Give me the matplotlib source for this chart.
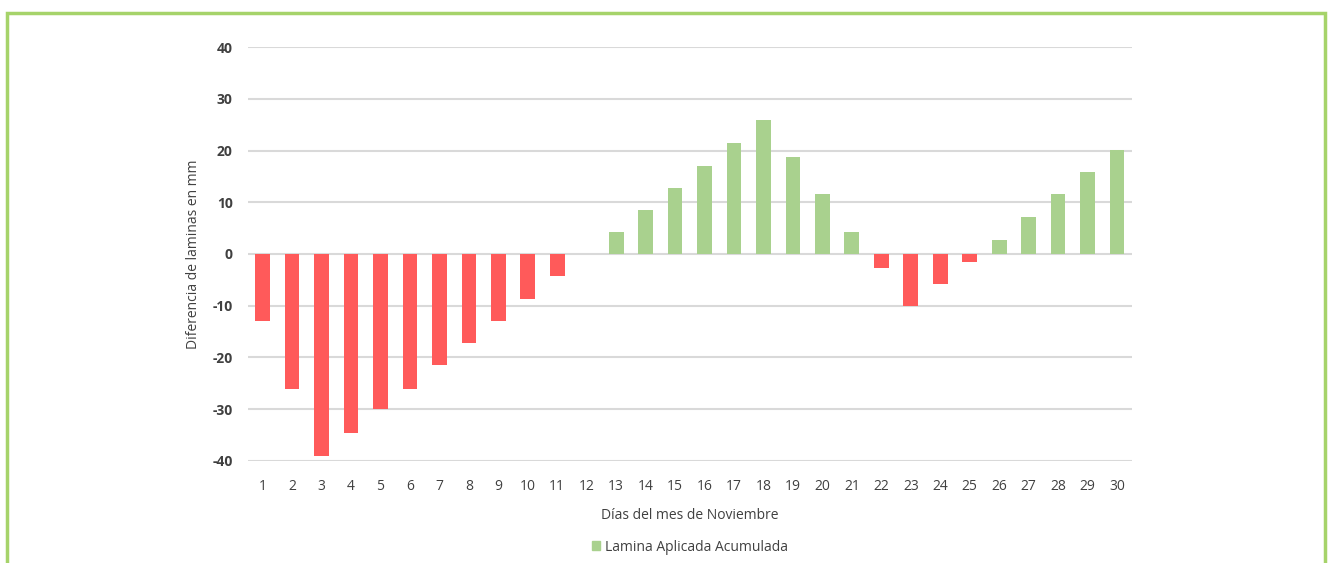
import matplotlib.pyplot as plt
from matplotlib.patches import Rectangle, Patch

# Daily difference of accumulated water depth (mm), November
days = list(range(1, 31))
diferencia = [-13, -26, -39, -34.5, -30, -26, -21.5, -17.2, -13, -8.7,
              -4.3, 0, 4.2, 8.5, 12.8, 17.1, 21.5, 25.8, 18.7, 11.5,
              4.2, -2.7, -10.1, -5.8, -1.5, 2.8, 7.2, 11.5, 15.8, 20.1]
yticks = [-40, -30, -20, -10, 0, 10, 20, 30, 40]

red = '#ff5a5a'
green = '#a9d18e'
colors = [green if v >= 0 else red for v in diferencia]

plt.rcParams['font.family'] = ['Open Sans', 'DejaVu Sans']
plt.rcParams['axes.unicode_minus'] = False

fig = plt.figure(figsize=(13.33, 5.63), dpi=100)
ax = fig.add_axes([0.186, 0.1812, 0.663, 0.7353])

ax.bar(days, diferencia, width=0.5, color=colors, zorder=3)

ax.set_xlim(0.5, 30.5)
ax.set_ylim(-40, 40)
ax.set_xticks(days)
ax.set_xticklabels([str(d) for d in days])
ax.set_yticks(yticks)
ax.yaxis.grid(True, color='#d9d9d9', linewidth=1.5, zorder=0)
ax.tick_params(length=0, labelsize=10, colors='#404040', pad=11)
ax.tick_params(axis='x', pad=13)
for lbl in ax.get_yticklabels():
    lbl.set_fontweight('bold')
for s in ax.spines.values():
    s.set_visible(False)

ax.set_xlabel('Días del mes de Noviembre', fontsize=10, color='#404040', labelpad=10)
ax.set_ylabel('Diferencia de laminas en mm', fontsize=10, color='#404040', labelpad=8)

ax.legend(handles=[Patch(color=green, label='Lamina Aplicada Acumulada')],
          loc='upper center', bbox_to_anchor=(0.5, -0.16), frameon=False,
          fontsize=10, handlelength=0.6, handleheight=0.6, handletextpad=0.3,
          labelcolor='#404040')

# green frame around the figure
fig.patches.append(Rectangle((7 / 1333, -0.05), 1318 / 1333, 1.05 - 13 / 563,
                             transform=fig.transFigure, fill=False,
                             edgecolor='#a6d36a', linewidth=2.5))

fig.savefig('out.png', dpi=100)
